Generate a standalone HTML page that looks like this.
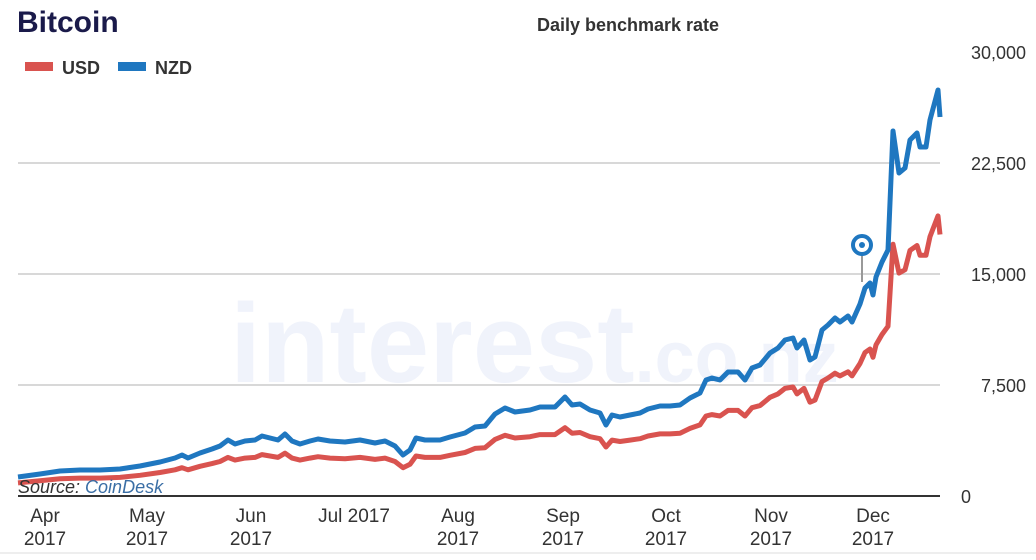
<!DOCTYPE html><html><head><style>
body{margin:0;background:#fff;width:1036px;height:555px;overflow:hidden;font-family:"Liberation Sans",Arial,sans-serif}
</style></head><body>
<svg width="1036" height="555" xmlns="http://www.w3.org/2000/svg" font-family="Liberation Sans, Arial, sans-serif">
<text x="17" y="32" font-size="30" font-weight="bold" fill="#1a1a4a">Bitcoin</text>
<text x="628" y="31" font-size="18" font-weight="bold" fill="#333" text-anchor="middle">Daily benchmark rate</text>
<rect x="25" y="62" width="28" height="9" fill="#d9534f"/><text x="62" y="74" font-size="18" font-weight="bold" fill="#333">USD</text>
<rect x="118" y="62" width="28" height="9" fill="#1f77c0"/><text x="155" y="74" font-size="18" font-weight="bold" fill="#333">NZD</text>
<g stroke="#ccc" stroke-width="1.5"><line x1="18" y1="163" x2="940" y2="163"/><line x1="18" y1="274" x2="940" y2="274"/><line x1="18" y1="385" x2="940" y2="385"/></g>
<text x="230" y="382" font-size="112" font-weight="bold" fill="#f0f3fb">interest<tspan font-size="72">.co.nz</tspan></text>
<g font-size="18" fill="#333" text-anchor="end"><text x="1026" y="59">30,000</text><text x="1026" y="170">22,500</text><text x="1026" y="281">15,000</text><text x="1026" y="392">7,500</text><text x="971" y="503">0</text></g>
<polyline id="usd" fill="none" stroke="#d9534f" stroke-width="5" stroke-linejoin="round"/>
<polyline id="nzd" fill="none" stroke="#1f77c0" stroke-width="5" stroke-linejoin="round"/>
<line x1="18" y1="496" x2="940" y2="496" stroke="#333" stroke-width="2"/>
<text x="18" y="493" font-size="18" font-style="italic" fill="#333">Source: <tspan fill="#3a6ea5">CoinDesk</tspan></text>
<line x1="862" y1="255" x2="862" y2="282" stroke="#999" stroke-width="2"/>
<circle cx="862" cy="245" r="9" fill="#fff" stroke="#1f77c0" stroke-width="4"/><circle cx="862" cy="245" r="3" fill="#1f77c0"/>
<g font-size="19" fill="#333" text-anchor="middle">
<text x="45" y="522">Apr</text><text x="45" y="545">2017</text>
<text x="147" y="522">May</text><text x="147" y="545">2017</text>
<text x="251" y="522">Jun</text><text x="251" y="545">2017</text>
<text x="354" y="522">Jul 2017</text>
<text x="458" y="522">Aug</text><text x="458" y="545">2017</text>
<text x="563" y="522">Sep</text><text x="563" y="545">2017</text>
<text x="666" y="522">Oct</text><text x="666" y="545">2017</text>
<text x="771" y="522">Nov</text><text x="771" y="545">2017</text>
<text x="873" y="522">Dec</text><text x="873" y="545">2017</text>
</g>
<line x1="0" y1="553" x2="1036" y2="553" stroke="#ddd"/>
</svg>
<script>
var b=[[18,477],[40,474],[60,471],[80,470],[100,470],[120,469],[140,466],[160,462],[175,458],[182,455],[188,458],[200,453],[212,449],[220,446],[228,440],[235,444],[245,441],[255,440],[262,436],[270,438],[278,440],[285,434],[292,441],[300,444],[310,441],[318,439],[330,441],[345,442],[360,440],[375,443],[385,441],[395,446],[403,455],[410,450],[416,438],[425,440],[440,440],[450,437],[465,433],[475,427],[485,426],[495,414],[505,408],[515,412],[530,410],[540,407],[555,407],[565,397],[572,405],[580,404],[590,410],[600,413],[606,425],[612,415],[620,417],[630,415],[640,413],[648,409],[660,406],[670,406],[680,405],[690,398],[700,393],[706,380],[712,378],[720,380],[728,372],[738,372],[745,380],[752,368],[760,365],[770,353],[778,348],[785,340],[793,338],[797,348],[804,340],[810,360],[815,357],[822,330],[828,325],[835,318],[840,322],[848,316],[852,322],[860,304],[865,288],[870,283],[873,295],[876,277],[882,262],[888,250],[893,131],[899,173],[905,168],[910,140],[917,133],[920,147],[926,147],[930,120],[938,90],[940,117]];
document.getElementById('nzd').setAttribute('points',b.map(p=>p.join(',')).join(' '));
document.getElementById('usd').setAttribute('points',b.map(p=>p[0]+','+(496-(496-p[1])*0.69).toFixed(1)).join(' '));
</script>
</body></html>
